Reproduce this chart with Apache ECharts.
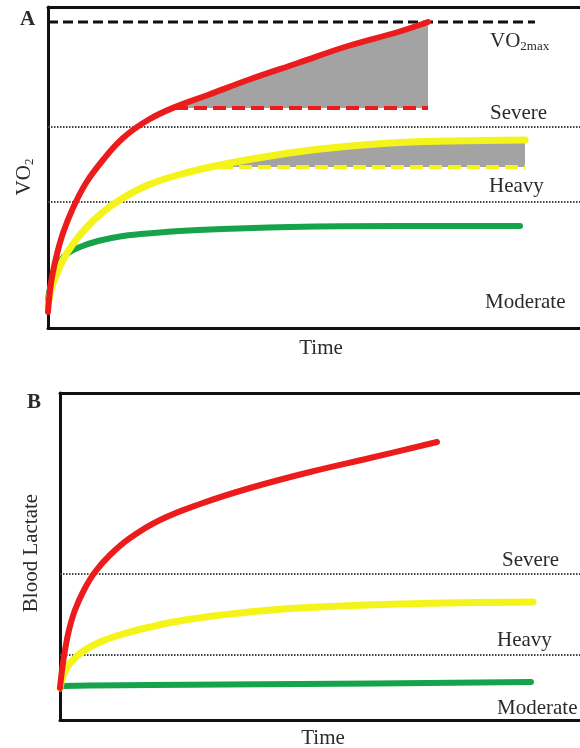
<!DOCTYPE html>
<html>
<head>
<meta charset="utf-8">
<script src="https://cdn.jsdelivr.net/npm/echarts@6/dist/echarts.min.js"></script>
<style>html,body{margin:0;padding:0;background:#fff}#c{width:580px;height:748px}</style>
</head>
<body>
<div id="c"></div>
<script>
// Panel A (VO2) — time units / VO2 units (arbitrary)
const redA = [[0,16],[3,45],[8,70],[15,95],[25,120],[38,145],[55,168],[75,190],[100,208],[127,221],[160,233],[200,248],[250,265],[300,282],[350,296],[380,306]];
const yellowA = [[0,22],[3,38],[8,52],[15,68],[25,84],[38,100],[55,116],[75,130],[100,143],[130,153],[172,163],[222,172],[272,179],[342,185],[402,187],[477,188]];
const greenA = [[0,28],[2,40],[6,55],[12,67],[20,75],[32,81],[50,87],[75,92],[105,95],[150,98],[242,101],[352,102],[472,102]];
const vo2maxA = 306, severeA = 201, heavyA = 126;
const redPlateauA = 220, redPlateauRangeA = [127, 380];
const yellowPlateauA = 161, yellowPlateauRangeA = [172, 477];
const vo2maxEndA = 487;
const xMaxA = 532, yMaxA = 321;

// Panel B (Blood lactate)
const redB = [[0,32],[2,50],[5,70],[9,90],[15,110],[24,130],[35,148],[50,165],[70,182],[100,200],[140,216],[190,232],[250,248],[310,262],[377,278]];
const yellowB = [[0,32],[3,44],[8,54],[15,62],[25,70],[40,78],[63,86],[90,93],[125,100],[180,107],[240,112],[340,116],[473,118]];
const greenB = [[0,32],[3,34],[90,35],[240,36],[471,38]];
const severeB = 146, heavyB = 65;
const xMaxB = 520, yMaxB = 327;

const labelsA = ['Severe', 'Heavy', 'Moderate'];
const labelsB = ['Severe', 'Heavy', 'Moderate'];

const RED = '#ec1c1c', YEL = '#f4f41a', GRN = '#17a24c', GRAY = '#a3a3a3';
const FONT = '"Liberation Serif", "Times New Roman", serif';
const TXT = '#2b2b2b';

const chart = echarts.init(document.getElementById('c'), null, {renderer: 'canvas'});

function axisX(grid, max, pos) {
  return {type: 'value', gridIndex: grid, min: 0, max: max, position: pos,
    axisLine: {show: true, onZero: false, lineStyle: {color: '#111', width: 3}},
    axisTick: {show: false}, axisLabel: {show: false}, splitLine: {show: false}};
}
function axisY(grid, max) {
  return {type: 'value', gridIndex: grid, min: 0, max: max,
    axisLine: {show: true, onZero: false, lineStyle: {color: '#111', width: 3}},
    axisTick: {show: false}, axisLabel: {show: false}, splitLine: {show: false}};
}
function hline(xi, yi, y, x0, x1, color, width, type) {
  return {type: 'line', xAxisIndex: xi, yAxisIndex: yi, data: [[x0, y], [x1, y]], symbol: 'none',
    silent: true, lineStyle: {color: color, width: width, type: type}, z: 3};
}
function curve(xi, yi, data, color, width) {
  return {type: 'line', xAxisIndex: xi, yAxisIndex: yi, data: data, symbol: 'none', smooth: 0.4,
    silent: true, lineStyle: {color: color, width: width, cap: 'round', join: 'round'}, z: 5};
}
function fill(xi, yi, data, origin) {
  return {type: 'line', xAxisIndex: xi, yAxisIndex: yi, data: data, symbol: 'none', smooth: 0.4,
    silent: true, lineStyle: {width: 0}, areaStyle: {color: GRAY, opacity: 1, origin: origin}, z: 2};
}
function label(text, x, y, size) {
  return {type: 'text', x: x, y: y, silent: true,
    style: {text: text, font: (size || 21) + 'px ' + FONT, fill: TXT, textVerticalAlign: 'middle'}};
}

const redFillA = redA.filter(p => p[0] >= redPlateauRangeA[0]);
const yellowFillA = yellowA.filter(p => p[0] >= yellowPlateauRangeA[0]);

chart.setOption({
  animation: false,
  backgroundColor: '#fff',
  grid: [
    {left: 48, right: 0, top: 7, bottom: 420},
    {left: 60, right: 0, top: 393, bottom: 28}
  ],
  xAxis: [axisX(0, xMaxA, 'bottom'), axisX(0, xMaxA, 'top'), axisX(1, xMaxB, 'bottom'), axisX(1, xMaxB, 'top')],
  yAxis: [axisY(0, yMaxA), axisY(1, yMaxB)],
  series: [
    fill(0, 0, redFillA, redPlateauA),
    fill(0, 0, yellowFillA, yellowPlateauA),
    hline(0, 0, vo2maxA, 0, vo2maxEndA, '#111', 3, [10, 5]),
    hline(0, 0, severeA, 0, xMaxA, '#444', 2, [1.5, 1.5]),
    hline(0, 0, heavyA, 0, xMaxA, '#444', 2, [1.5, 1.5]),
    curve(0, 0, greenA, GRN, 6),
    curve(0, 0, yellowA, YEL, 7),
    curve(0, 0, redA, RED, 6),
    Object.assign(hline(0, 0, redPlateauA, redPlateauRangeA[0], redPlateauRangeA[1], RED, 4, [13, 6]), {z: 6}),
    Object.assign(hline(0, 0, yellowPlateauA, yellowPlateauRangeA[0], yellowPlateauRangeA[1], YEL, 4, [13, 6]), {z: 6}),

    hline(2, 1, severeB, 0, xMaxB, '#444', 2, [1.5, 1.5]),
    hline(2, 1, heavyB, 0, xMaxB, '#444', 2, [1.5, 1.5]),
    curve(2, 1, greenB, GRN, 6),
    curve(2, 1, yellowB, YEL, 7),
    curve(2, 1, redB, RED, 6)
  ],
  graphic: [
    {type: 'text', x: 20, y: 20, silent: true, style: {text: 'A', font: 'bold 21px ' + FONT, fill: TXT, textVerticalAlign: 'middle'}},
    {type: 'text', x: 27, y: 403, silent: true, style: {text: 'B', font: 'bold 21px ' + FONT, fill: TXT, textVerticalAlign: 'middle'}},
    {type: 'text', x: 490, y: 31, silent: true, style: {
      text: '{m|VO}{s|2max}', fill: TXT,
      rich: {m: {fontFamily: FONT, fontSize: 21, lineHeight: 22, verticalAlign: 'top', fill: TXT},
             s: {fontFamily: FONT, fontSize: 13, lineHeight: 13, verticalAlign: 'bottom', padding: [0, 0, 0, 0], fill: TXT}}}},
    label(labelsA[0], 490, 113),
    label(labelsA[1], 489, 186),
    label(labelsA[2], 485, 302),
    {type: 'text', x: 321, y: 348, silent: true, style: {text: 'Time', font: '21px ' + FONT, fill: TXT, textAlign: 'center', textVerticalAlign: 'middle'}},
    {type: 'text', x: 25, y: 177, rotation: Math.PI / 2, silent: true, style: {
      text: '{m|VO}{s|2}', textAlign: 'center', textVerticalAlign: 'middle', fill: TXT,
      rich: {m: {fontFamily: FONT, fontSize: 21, lineHeight: 22, verticalAlign: 'top', fill: TXT},
             s: {fontFamily: FONT, fontSize: 13, lineHeight: 13, verticalAlign: 'bottom', fill: TXT}}}},

    label(labelsB[0], 502, 560),
    label(labelsB[1], 497, 640),
    label(labelsB[2], 497, 708),
    {type: 'text', x: 323, y: 738, silent: true, style: {text: 'Time', font: '21px ' + FONT, fill: TXT, textAlign: 'center', textVerticalAlign: 'middle'}},
    {type: 'text', x: 31, y: 553, rotation: Math.PI / 2, silent: true, style: {text: 'Blood Lactate', font: '21px ' + FONT, fill: TXT, textAlign: 'center', textVerticalAlign: 'middle'}}
  ]
});
</script>
</body>
</html>
